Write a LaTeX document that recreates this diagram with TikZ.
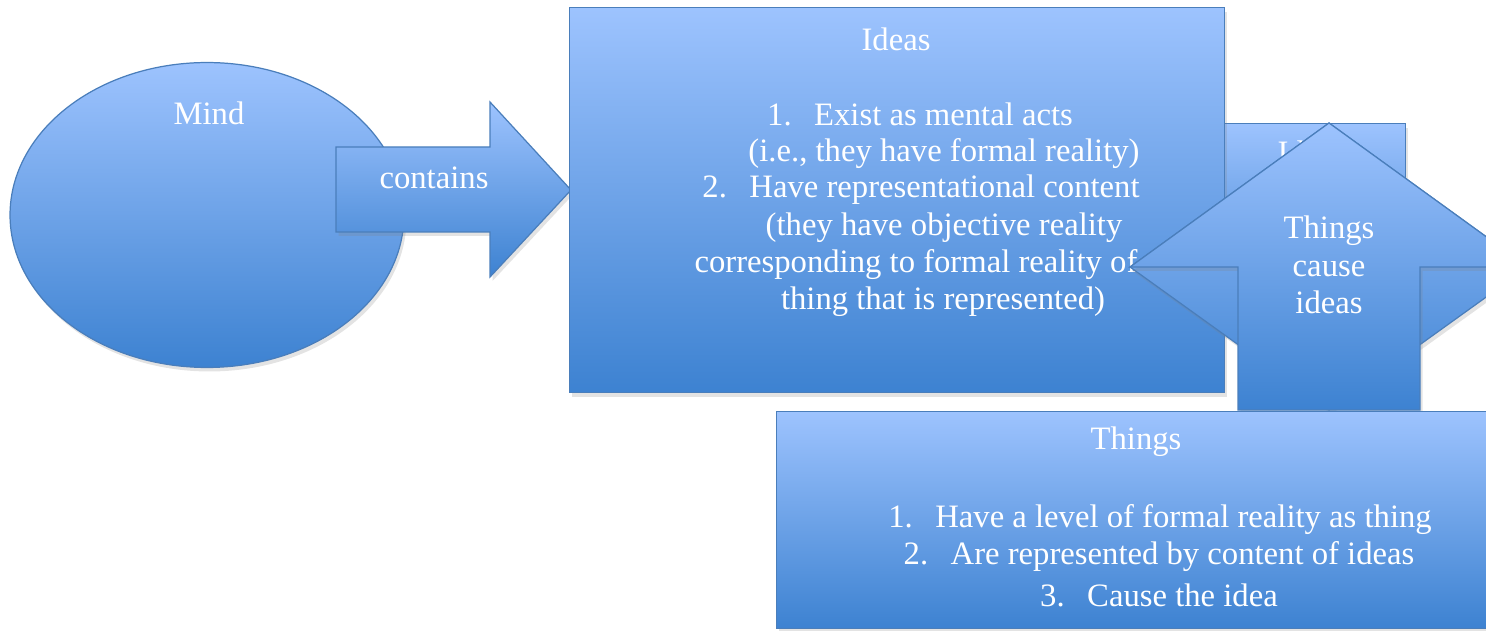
\documentclass[tikz,border=0pt]{standalone}
\usepackage{fontspec}
\setmainfont{Liberation Serif}
\usetikzlibrary{shapes.geometric,shadows}
\definecolor{skytop}{HTML}{9DC3FE}
\definecolor{skybot}{HTML}{3D82D1}
\definecolor{edge}{HTML}{4A7EBB}
\tikzset{
  blob/.style={draw=edge,line width=.7pt,top color=skytop,bottom color=skybot,
    drop shadow={shadow xshift=.5mm,shadow yshift=-.8mm,opacity=.22}},
  panel/.style={blob,rectangle,inner sep=0pt,anchor=north west},
  txt/.style={text=white,inner sep=0pt,font=\fontsize{18.6}{21.3}\selectfont},
}

\begin{document}
\begin{tikzpicture}[x=0.02cm,y=-0.02cm]
  \useasboundingbox (0,0) rectangle (1486,631);

  % mind and the arrow leaving it
  \node[blob,ellipse,minimum width=7.88cm,minimum height=6.1cm,inner sep=0pt] (mind) at (207,215) {};
  \node[txt] (mindlbl) at (209,113) {Mind};
  \path[blob] (336,147) -- (490,147) -- (490,102) -- (571,190) -- (490,277) -- (490,232) -- (336,232) -- cycle;
  \node[txt] (contains) at (434,178) {contains};

  % second ideas card, mostly hidden
  \node[panel,minimum width=3.7cm,minimum height=3.6cm] (ideasback) at (1220,123) {};
  \node[txt] (ideasbacklbl) at (1312,152) {Ideas};

  % ideas card
  \node[panel,minimum width=13.1cm,minimum height=7.7cm] (ideas) at (569,7) {};
  \node[txt] (ideaslbl) at (896,39) {Ideas};
  \foreach \x/\y/\t [count=\i] in {
      920/114/{1.\hspace{.45cm}Exist as mental acts},
      944/154/{(i.e., they have formal reality)},
      921/190/{2.\hspace{.45cm}Have representational content},
      944/228/{(they have objective reality},
      940/265/{corresponding to formal reality of the},
      943/302/{thing that is represented)}}
    \node[txt] (idea\i) at (\x,\y) {\t};

  % up arrow over its diamond
  \path[blob] (1329,123) -- (1528,267) -- (1329,410) -- (1130,267) -- cycle;
  \path[blob] (1329,123) -- (1528,267) -- (1420,267) -- (1420,410) -- (1238,410)
    -- (1238,267) -- (1130,267) -- cycle;
  \node[txt,align=center] (cause) at (1329,265) {Things\\cause\\ideas};

  % things card
  \node[panel,minimum width=14.5cm,minimum height=4.34cm] (things) at (776,411) {};
  \node[txt] (thingslbl) at (1136,442) {Things};
  \foreach \x/\y/\t [count=\i] in {
      1160/520/{1.\hspace{.45cm}Have a level of formal reality as thing},
      1159/557/{2.\hspace{.45cm}Are represented by content of ideas},
      1159/595/{3.\hspace{.45cm}Cause the idea}}
    \node[txt] (thing\i) at (\x,\y) {\t};
\end{tikzpicture}
\end{document}
